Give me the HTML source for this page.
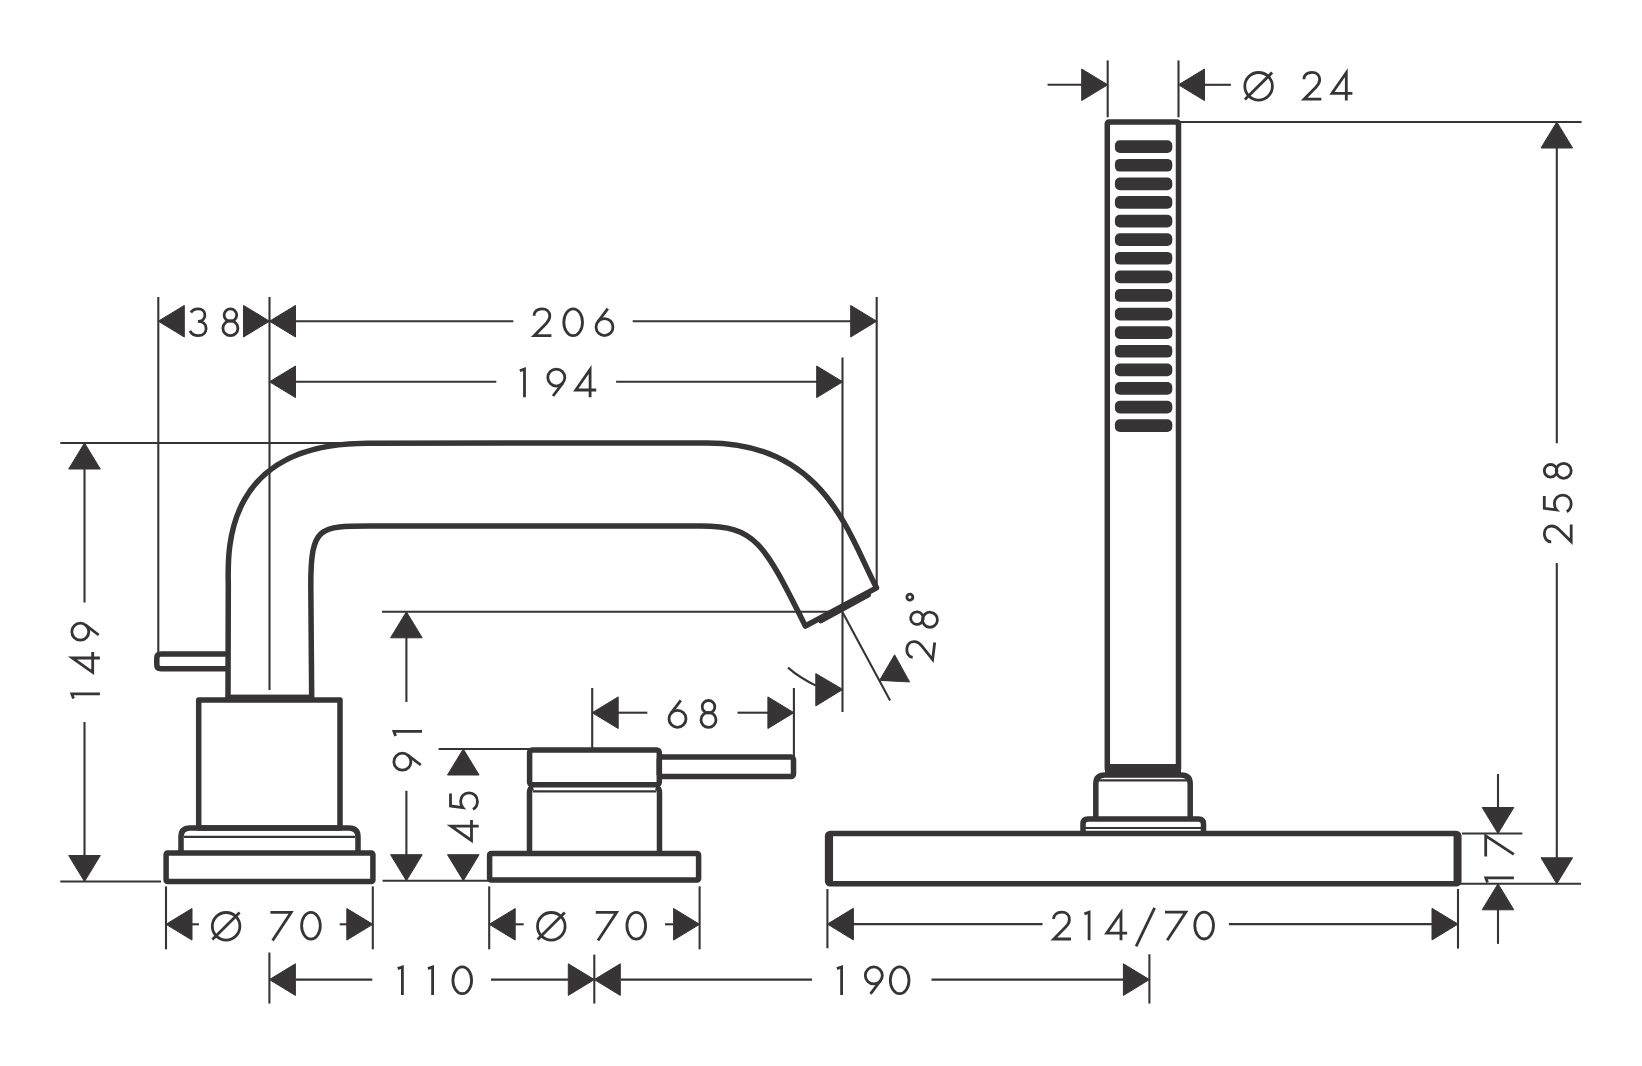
<!DOCTYPE html>
<html><head><meta charset="utf-8"><style>
html,body{margin:0;padding:0;background:#fff;}
body{width:1642px;height:1066px;overflow:hidden;font-family:"Liberation Sans",sans-serif;}
svg{display:block;}
</style></head><body>
<svg width="1642" height="1066" viewBox="0 0 1642 1066">
<rect width="1642" height="1066" fill="#fff"/>
<g stroke="#363435" stroke-linecap="butt" fill="none">
<line x1="158.3" y1="297" x2="158.3" y2="653" stroke-width="2.1"/>
<line x1="269.5" y1="297" x2="269.5" y2="690" stroke-width="2.1"/>
<polygon points="158.3,321.2 184.3,305.4 184.3,337.0" fill="#363435" stroke="#363435" stroke-width="1" stroke-linejoin="round"/>
<polygon points="269.5,321.2 243.5,305.4 243.5,337.0" fill="#363435" stroke="#363435" stroke-width="1" stroke-linejoin="round"/>
<polygon points="269.5,321.2 295.5,305.4 295.5,337.0" fill="#363435" stroke="#363435" stroke-width="1" stroke-linejoin="round"/>
<g transform="translate(188.7,307.5)" fill="none" stroke-width="2.8"><path d="M2.2,5 C3.6,2.6 6.2,1.3 9.4,1.3 C13.4,1.3 16.2,4 16.2,7.7 C16.2,11.4 13.4,13.9 9.2,13.9 C14.2,13.9 17.4,16.9 17.4,21 C17.4,25.3 14.1,28.2 9.6,28.2 C5.8,28.2 2.8,26.4 1.3,23.3"/></g>
<g transform="translate(220.4,307.5)" fill="none" stroke-width="2.8"><circle cx="10" cy="7.6" r="6.3"/><circle cx="10" cy="20.7" r="7.5"/></g>
<line x1="295" y1="321.2" x2="513.3" y2="321.2" stroke-width="2.1"/>
<line x1="632.7" y1="321.2" x2="851" y2="321.2" stroke-width="2.1"/>
<polygon points="876.7,321.2 850.7,305.4 850.7,337.0" fill="#363435" stroke="#363435" stroke-width="1" stroke-linejoin="round"/>
<line x1="876.7" y1="297" x2="876.7" y2="587" stroke-width="2.1"/>
<g transform="translate(532.4,307.5)" fill="none" stroke-width="2.8"><path d="M1.6,8.2 C1.6,4 5,1.3 9.6,1.3 C14.2,1.3 17.4,4.3 17.4,8.6 C17.4,11.6 16,13.8 13.6,16.2 L1.8,28.2 H19"/></g>
<g transform="translate(562.5,307.5)" fill="none" stroke-width="2.8"><ellipse cx="10.65" cy="14.75" rx="9.35" ry="13.45"/></g>
<g transform="translate(594.0,307.5)" fill="none" stroke-width="2.8"><path d="M13.8,1.2 L3.72,14.48"/><circle cx="10.5" cy="19.6" r="8.5"/></g>
<polygon points="269.5,381.8 295.5,366.0 295.5,397.6" fill="#363435" stroke="#363435" stroke-width="1" stroke-linejoin="round"/>
<line x1="295" y1="381.8" x2="496.3" y2="381.8" stroke-width="2.1"/>
<line x1="616.1" y1="381.8" x2="817" y2="381.8" stroke-width="2.1"/>
<polygon points="842.7,381.8 816.7,366.0 816.7,397.6" fill="#363435" stroke="#363435" stroke-width="1" stroke-linejoin="round"/>
<line x1="842.5" y1="357.4" x2="842.5" y2="712" stroke-width="2.1"/>
<g transform="translate(519.4,367.7)" fill="none" stroke-width="2.8"><path d="M5.1,29.5 V1.4 L0.4,3.1"/></g>
<g transform="translate(546.5,367.7)" fill="none" stroke-width="2.8"><circle cx="9.8" cy="9.9" r="8.5"/><path d="M16.58,15.02 L6.5,28.3"/></g>
<g transform="translate(574.3,367.7)" fill="none" stroke-width="2.8"><path d="M15.8,29.5 V1.8 L1.5,22.3 H21.9"/></g>
<line x1="60.3" y1="443" x2="380" y2="443" stroke-width="2.1"/>
<line x1="60.3" y1="881.5" x2="161" y2="881.5" stroke-width="2.1"/>
<polygon points="84.5,443.0 68.7,469.0 100.3,469.0" fill="#363435" stroke="#363435" stroke-width="1" stroke-linejoin="round"/>
<polygon points="84.5,881.5 68.7,855.5 100.3,855.5" fill="#363435" stroke="#363435" stroke-width="1" stroke-linejoin="round"/>
<line x1="84.5" y1="468" x2="84.5" y2="602.5" stroke-width="2.1"/>
<line x1="84.5" y1="722" x2="84.5" y2="856" stroke-width="2.1"/>
<g transform="translate(70.4,699.0) rotate(-90)" fill="none" stroke-width="2.8"><path d="M5.1,29.5 V1.4 L0.4,3.1"/></g>
<g transform="translate(70.4,673.8) rotate(-90)" fill="none" stroke-width="2.8"><path d="M15.8,29.5 V1.8 L1.5,22.3 H21.9"/></g>
<g transform="translate(70.4,641.5) rotate(-90)" fill="none" stroke-width="2.8"><circle cx="9.8" cy="9.9" r="8.5"/><path d="M16.58,15.02 L6.5,28.3"/></g>
<line x1="382" y1="611.8" x2="830" y2="611.8" stroke-width="2.1"/>
<polygon points="406.4,611.8 390.6,637.8 422.2,637.8" fill="#363435" stroke="#363435" stroke-width="1" stroke-linejoin="round"/>
<polygon points="406.4,880.7 390.6,854.7 422.2,854.7" fill="#363435" stroke="#363435" stroke-width="1" stroke-linejoin="round"/>
<line x1="406.4" y1="637" x2="406.4" y2="702" stroke-width="2.1"/>
<line x1="406.4" y1="790.8" x2="406.4" y2="855" stroke-width="2.1"/>
<line x1="382.6" y1="880.7" x2="489" y2="880.7" stroke-width="2.1"/>
<g transform="translate(392.5,736.5) rotate(-90)" fill="none" stroke-width="2.8"><path d="M5.1,29.5 V1.4 L0.4,3.1"/></g>
<g transform="translate(392.5,771.5) rotate(-90)" fill="none" stroke-width="2.8"><circle cx="9.8" cy="9.9" r="8.5"/><path d="M16.58,15.02 L6.5,28.3"/></g>
<line x1="438.6" y1="749" x2="529.6" y2="749" stroke-width="2.1"/>
<polygon points="463.3,749.0 447.5,775.0 479.1,775.0" fill="#363435" stroke="#363435" stroke-width="1" stroke-linejoin="round"/>
<polygon points="463.3,880.7 447.5,854.7 479.1,854.7" fill="#363435" stroke="#363435" stroke-width="1" stroke-linejoin="round"/>
<g transform="translate(449.2,842.0) rotate(-90)" fill="none" stroke-width="2.8"><path d="M15.8,29.5 V1.8 L1.5,22.3 H21.9"/></g>
<g transform="translate(449.2,811.2) rotate(-90)" fill="none" stroke-width="2.8"><path d="M17.6,1.3 H5.2 L3.6,13.6 C5.2,12.2 7.4,11.4 10,11.4 C14.9,11.4 18.4,14.9 18.4,19.8 C18.4,24.8 14.6,28.2 9.8,28.2 C6.4,28.2 3.6,26.6 1.8,23.8"/></g>
<line x1="592.2" y1="688" x2="592.2" y2="750" stroke-width="2.1"/>
<line x1="793.9" y1="688" x2="793.9" y2="757" stroke-width="2.1"/>
<polygon points="592.2,712.7 618.2,696.9 618.2,728.5" fill="#363435" stroke="#363435" stroke-width="1" stroke-linejoin="round"/>
<polygon points="793.9,712.7 767.9,696.9 767.9,728.5" fill="#363435" stroke="#363435" stroke-width="1" stroke-linejoin="round"/>
<line x1="618" y1="712.7" x2="647.3" y2="712.7" stroke-width="2.1"/>
<line x1="737.5" y1="712.7" x2="768" y2="712.7" stroke-width="2.1"/>
<g transform="translate(667.0,699.2)" fill="none" stroke-width="2.8"><path d="M13.8,1.2 L3.72,14.48"/><circle cx="10.5" cy="19.6" r="8.5"/></g>
<g transform="translate(698.5,699.2)" fill="none" stroke-width="2.8"><circle cx="10" cy="7.6" r="6.3"/><circle cx="10" cy="20.7" r="7.5"/></g>
<line x1="842.8" y1="612.8" x2="890.1" y2="700.6" stroke-width="2.1"/>
<path d="M788,667.6 Q800,678 816,685.6" fill="none" stroke-width="2.1"/>
<polygon points="842.8,689.4 815.8,673.6 815.8,705.9" fill="#363435" stroke="#363435" stroke-width="1" stroke-linejoin="round"/>
<polygon points="894.6,654.8 879.6,680.4 909.6,681.9" fill="#363435" stroke="#363435" stroke-width="1" stroke-linejoin="round"/>
<g transform="translate(904.4,657.9) rotate(-83)" fill="none" stroke-width="2.8"><g transform="translate(0,0)"><path d="M1.6,8.2 C1.6,4 5,1.3 9.6,1.3 C14.2,1.3 17.4,4.3 17.4,8.6 C17.4,11.6 16,13.8 13.6,16.2 L1.8,28.2 H19"/></g><g transform="translate(31,0)"><circle cx="10" cy="7.6" r="6.3"/><circle cx="10" cy="20.7" r="7.5"/></g><g transform="translate(57,-6)"><circle cx="4" cy="4" r="3"/></g></g>
<line x1="166" y1="886.4" x2="166" y2="949.3" stroke-width="2.1"/>
<line x1="372.8" y1="886.4" x2="372.8" y2="949.3" stroke-width="2.1"/>
<polygon points="166.0,924.3 192.0,908.5 192.0,940.1" fill="#363435" stroke="#363435" stroke-width="1" stroke-linejoin="round"/>
<polygon points="372.8,924.3 346.8,908.5 346.8,940.1" fill="#363435" stroke="#363435" stroke-width="1" stroke-linejoin="round"/>
<line x1="192" y1="924.3" x2="199" y2="924.3" stroke-width="2.1"/>
<line x1="339.7" y1="924.3" x2="347" y2="924.3" stroke-width="2.1"/>
<g transform="translate(210.8,911.0)" fill="none" stroke-width="2.8"><circle cx="15.3" cy="15.3" r="13.8"/><path d="M1.6,28.6 L28.8,1.6"/></g>
<g transform="translate(270.4,911.0)" fill="none" stroke-width="2.8"><path d="M0,1.3 H20.8 L2.2,29.5"/></g>
<g transform="translate(300.3,911.0)" fill="none" stroke-width="2.8"><ellipse cx="10.65" cy="14.75" rx="9.35" ry="13.45"/></g>
<line x1="489.2" y1="886.4" x2="489.2" y2="949.3" stroke-width="2.1"/>
<line x1="699.6" y1="886.4" x2="699.6" y2="949.3" stroke-width="2.1"/>
<polygon points="489.2,924.3 515.2,908.5 515.2,940.1" fill="#363435" stroke="#363435" stroke-width="1" stroke-linejoin="round"/>
<polygon points="699.6,924.3 673.6,908.5 673.6,940.1" fill="#363435" stroke="#363435" stroke-width="1" stroke-linejoin="round"/>
<line x1="515" y1="924.3" x2="523.7" y2="924.3" stroke-width="2.1"/>
<line x1="665" y1="924.3" x2="673" y2="924.3" stroke-width="2.1"/>
<g transform="translate(536.0,911.0)" fill="none" stroke-width="2.8"><circle cx="15.3" cy="15.3" r="13.8"/><path d="M1.6,28.6 L28.8,1.6"/></g>
<g transform="translate(595.8,911.0)" fill="none" stroke-width="2.8"><path d="M0,1.3 H20.8 L2.2,29.5"/></g>
<g transform="translate(625.6,911.0)" fill="none" stroke-width="2.8"><ellipse cx="10.65" cy="14.75" rx="9.35" ry="13.45"/></g>
<line x1="269.4" y1="952.5" x2="269.4" y2="1003.6" stroke-width="2.1"/>
<line x1="594.3" y1="954.6" x2="594.3" y2="1003.6" stroke-width="2.1"/>
<polygon points="269.4,979.6 295.4,963.8 295.4,995.4" fill="#363435" stroke="#363435" stroke-width="1" stroke-linejoin="round"/>
<polygon points="594.3,979.6 568.3,963.8 568.3,995.4" fill="#363435" stroke="#363435" stroke-width="1" stroke-linejoin="round"/>
<polygon points="594.3,979.6 620.3,963.8 620.3,995.4" fill="#363435" stroke="#363435" stroke-width="1" stroke-linejoin="round"/>
<line x1="296" y1="979.6" x2="372.3" y2="979.6" stroke-width="2.1"/>
<line x1="491" y1="979.6" x2="568" y2="979.6" stroke-width="2.1"/>
<g transform="translate(397.3,965.5)" fill="none" stroke-width="2.8"><path d="M5.1,29.5 V1.4 L0.4,3.1"/></g>
<g transform="translate(427.5,965.5)" fill="none" stroke-width="2.8"><path d="M5.1,29.5 V1.4 L0.4,3.1"/></g>
<g transform="translate(451.6,965.5)" fill="none" stroke-width="2.8"><ellipse cx="10.65" cy="14.75" rx="9.35" ry="13.45"/></g>
<line x1="621" y1="979.6" x2="812" y2="979.6" stroke-width="2.1"/>
<line x1="931.5" y1="979.6" x2="1123.4" y2="979.6" stroke-width="2.1"/>
<polygon points="1149.4,979.6 1123.4,963.8 1123.4,995.4" fill="#363435" stroke="#363435" stroke-width="1" stroke-linejoin="round"/>
<line x1="1149.4" y1="954.3" x2="1149.4" y2="1003.6" stroke-width="2.1"/>
<g transform="translate(836.5,965.5)" fill="none" stroke-width="2.8"><path d="M5.1,29.5 V1.4 L0.4,3.1"/></g>
<g transform="translate(864.0,965.5)" fill="none" stroke-width="2.8"><circle cx="9.8" cy="9.9" r="8.5"/><path d="M16.58,15.02 L6.5,28.3"/></g>
<g transform="translate(889.0,965.5)" fill="none" stroke-width="2.8"><ellipse cx="10.65" cy="14.75" rx="9.35" ry="13.45"/></g>
<line x1="827.4" y1="889" x2="827.4" y2="948.3" stroke-width="2.1"/>
<line x1="1458" y1="889" x2="1458" y2="948.6" stroke-width="2.1"/>
<polygon points="827.4,924.1 853.4,908.3 853.4,939.9" fill="#363435" stroke="#363435" stroke-width="1" stroke-linejoin="round"/>
<polygon points="1458.0,924.1 1432.0,908.3 1432.0,939.9" fill="#363435" stroke="#363435" stroke-width="1" stroke-linejoin="round"/>
<line x1="853" y1="924.1" x2="1042.5" y2="924.1" stroke-width="2.1"/>
<line x1="1228.9" y1="924.1" x2="1432" y2="924.1" stroke-width="2.1"/>
<g transform="translate(1052.0,910.8)" fill="none" stroke-width="2.8"><path d="M1.6,8.2 C1.6,4 5,1.3 9.6,1.3 C14.2,1.3 17.4,4.3 17.4,8.6 C17.4,11.6 16,13.8 13.6,16.2 L1.8,28.2 H19"/></g>
<g transform="translate(1084.0,910.8)" fill="none" stroke-width="2.8"><path d="M5.1,29.5 V1.4 L0.4,3.1"/></g>
<g transform="translate(1105.2,910.8)" fill="none" stroke-width="2.8"><path d="M15.8,29.5 V1.8 L1.5,22.3 H21.9"/></g>
<g transform="translate(1135.0,910.8)" fill="none" stroke-width="2.8"><path d="M1.1,35.5 L19.6,-2.9"/></g>
<g transform="translate(1165.0,910.8)" fill="none" stroke-width="2.8"><path d="M0,1.3 H20.8 L2.2,29.5"/></g>
<g transform="translate(1193.5,910.8)" fill="none" stroke-width="2.8"><ellipse cx="10.65" cy="14.75" rx="9.35" ry="13.45"/></g>
<line x1="1107.7" y1="60.4" x2="1107.7" y2="117.3" stroke-width="2.1"/>
<line x1="1178.5" y1="60.4" x2="1178.5" y2="117.3" stroke-width="2.1"/>
<line x1="1047.6" y1="84.8" x2="1082" y2="84.8" stroke-width="2.1"/>
<polygon points="1107.7,84.8 1081.7,69.0 1081.7,100.6" fill="#363435" stroke="#363435" stroke-width="1" stroke-linejoin="round"/>
<polygon points="1178.5,84.8 1204.5,69.0 1204.5,100.6" fill="#363435" stroke="#363435" stroke-width="1" stroke-linejoin="round"/>
<line x1="1204" y1="84.8" x2="1230.9" y2="84.8" stroke-width="2.1"/>
<g transform="translate(1243.3,71.0)" fill="none" stroke-width="2.8"><circle cx="15.3" cy="15.3" r="13.8"/><path d="M1.6,28.6 L28.8,1.6"/></g>
<g transform="translate(1302.3,71.0)" fill="none" stroke-width="2.8"><path d="M1.6,8.2 C1.6,4 5,1.3 9.6,1.3 C14.2,1.3 17.4,4.3 17.4,8.6 C17.4,11.6 16,13.8 13.6,16.2 L1.8,28.2 H19"/></g>
<g transform="translate(1330.5,71.0)" fill="none" stroke-width="2.8"><path d="M15.8,29.5 V1.8 L1.5,22.3 H21.9"/></g>
<line x1="1178.5" y1="122" x2="1581.6" y2="122" stroke-width="2.1"/>
<polygon points="1556.8,122.0 1541.0,148.0 1572.6,148.0" fill="#363435" stroke="#363435" stroke-width="1" stroke-linejoin="round"/>
<polygon points="1556.8,883.8 1541.0,857.8 1572.6,857.8" fill="#363435" stroke="#363435" stroke-width="1" stroke-linejoin="round"/>
<line x1="1556.8" y1="147" x2="1556.8" y2="443.3" stroke-width="2.1"/>
<line x1="1556.8" y1="563" x2="1556.8" y2="858" stroke-width="2.1"/>
<line x1="1458" y1="883.8" x2="1581" y2="883.8" stroke-width="2.1"/>
<g transform="translate(1543.0,543.4) rotate(-90)" fill="none" stroke-width="2.8"><path d="M1.6,8.2 C1.6,4 5,1.3 9.6,1.3 C14.2,1.3 17.4,4.3 17.4,8.6 C17.4,11.6 16,13.8 13.6,16.2 L1.8,28.2 H19"/></g>
<g transform="translate(1543.0,513.5) rotate(-90)" fill="none" stroke-width="2.8"><path d="M17.6,1.3 H5.2 L3.6,13.6 C5.2,12.2 7.4,11.4 10,11.4 C14.9,11.4 18.4,14.9 18.4,19.8 C18.4,24.8 14.6,28.2 9.8,28.2 C6.4,28.2 3.6,26.6 1.8,23.8"/></g>
<g transform="translate(1543.0,480.8) rotate(-90)" fill="none" stroke-width="2.8"><circle cx="10" cy="7.6" r="6.3"/><circle cx="10" cy="20.7" r="7.5"/></g>
<line x1="1462" y1="833.5" x2="1522.3" y2="833.5" stroke-width="2.1"/>
<line x1="1498" y1="774" x2="1498" y2="808" stroke-width="2.1"/>
<polygon points="1498.0,833.5 1482.2,807.5 1513.8,807.5" fill="#363435" stroke="#363435" stroke-width="1" stroke-linejoin="round"/>
<polygon points="1498.0,883.8 1482.2,909.8 1513.8,909.8" fill="#363435" stroke="#363435" stroke-width="1" stroke-linejoin="round"/>
<line x1="1498" y1="909" x2="1498" y2="943.9" stroke-width="2.1"/>
<g transform="translate(1484.4,883.0) rotate(-90)" fill="none" stroke-width="2.8"><path d="M5.1,29.5 V1.4 L0.4,3.1"/></g>
<g transform="translate(1484.4,856.6) rotate(-90)" fill="none" stroke-width="2.8"><path d="M0,1.3 H20.8 L2.2,29.5"/></g>
<path d="M228,698 L228.3,586 C228.3,558.5 218.5,443.2 367.3,443.2 L707.3,442.9 C824.9,442.9 849.1,535.8 876.5,587.8 L805.4,626 C763.6,542.7 755.8,526.1 700.7,526.1 L370.5,526 C319.3,526 310.8,525.9 310.8,585.3 L311.7,698" fill="none" stroke-width="5.5" stroke-linejoin="round"/>
<line x1="868.2" y1="594.8" x2="820.9" y2="620.6" stroke-width="5.5" stroke-linecap="round"/>
<path d="M228,654 H161 Q156.8,654 156.8,658 V664.7 Q156.8,668.7 161,668.7 H228" fill="none" stroke-width="5.5"/>
<rect x="228" y="694.6" width="83.7" height="5.5" fill="#363435" stroke="none"/>
<rect x="198.7" y="700" width="141.3" height="128" fill="none" stroke-width="5.5" stroke-linejoin="round"/>
<path d="M181,853 V837 Q181,828 190,828 H349 Q358,828 358,837 V853" fill="none" stroke-width="5.5"/>
<line x1="184" y1="836.8" x2="355" y2="836.8" stroke-width="2.2"/>
<rect x="166.1" y="853" width="206.8" height="28.6" rx="1.5" fill="none" stroke-width="5.5"/>
<rect x="529.6" y="750" width="129.7" height="34.8" rx="2.5" fill="none" stroke-width="5.5"/>
<path d="M529.5,853.6 V793 Q529.5,788 533,787 M659.5,853.6 V793 Q659.5,788 656,787" fill="none" stroke-width="5.5"/>
<line x1="533" y1="791.3" x2="656" y2="791.3" stroke-width="2.2"/>
<rect x="489.6" y="853.6" width="209" height="26.5" rx="1.5" fill="none" stroke-width="5.5"/>
<rect x="659.3" y="757.1" width="134.2" height="19.5" rx="2.5" fill="none" stroke-width="5.5"/>
<rect x="1107.3" y="122" width="71.2" height="648" rx="1.5" fill="none" stroke-width="5.5"/>
<rect x="1114.9" y="140.3" width="57.4" height="12.7" rx="5" fill="#363435" stroke="none"/>
<rect x="1114.9" y="158.9" width="57.4" height="12.7" rx="5" fill="#363435" stroke="none"/>
<rect x="1114.9" y="177.5" width="57.4" height="12.7" rx="5" fill="#363435" stroke="none"/>
<rect x="1114.9" y="196.1" width="57.4" height="12.7" rx="5" fill="#363435" stroke="none"/>
<rect x="1114.9" y="214.7" width="57.4" height="12.7" rx="5" fill="#363435" stroke="none"/>
<rect x="1114.9" y="233.3" width="57.4" height="12.7" rx="5" fill="#363435" stroke="none"/>
<rect x="1114.9" y="251.9" width="57.4" height="12.7" rx="5" fill="#363435" stroke="none"/>
<rect x="1114.9" y="270.5" width="57.4" height="12.7" rx="5" fill="#363435" stroke="none"/>
<rect x="1114.9" y="289.1" width="57.4" height="12.7" rx="5" fill="#363435" stroke="none"/>
<rect x="1114.9" y="307.7" width="57.4" height="12.7" rx="5" fill="#363435" stroke="none"/>
<rect x="1114.9" y="326.3" width="57.4" height="12.7" rx="5" fill="#363435" stroke="none"/>
<rect x="1114.9" y="344.9" width="57.4" height="12.7" rx="5" fill="#363435" stroke="none"/>
<rect x="1114.9" y="363.5" width="57.4" height="12.7" rx="5" fill="#363435" stroke="none"/>
<rect x="1114.9" y="382.1" width="57.4" height="12.7" rx="5" fill="#363435" stroke="none"/>
<rect x="1114.9" y="400.7" width="57.4" height="12.7" rx="5" fill="#363435" stroke="none"/>
<rect x="1114.9" y="419.3" width="57.4" height="12.7" rx="5" fill="#363435" stroke="none"/>
<rect x="1105" y="764" width="76" height="13" fill="#363435" stroke="none"/>
<path d="M1095.8,819 V784 Q1095.8,775 1104.8,775 H1181.2 Q1190.2,775 1190.2,784 V819" fill="none" stroke-width="5.5"/>
<line x1="1099" y1="780.3" x2="1187" y2="780.3" stroke-width="2.2"/>
<path d="M1083,833 V824 Q1083,819 1088,819 H1198.5 Q1203.5,819 1203.5,824 V833" fill="none" stroke-width="5.5"/>
<line x1="1085" y1="828" x2="1201" y2="828" stroke-width="2.2"/>
<rect x="827.6" y="833.4" width="631.2" height="50.4" rx="2.5" fill="none" stroke-width="5.5"/>
<line x1="830.3" y1="836" x2="830.3" y2="881.5" stroke-width="5.5"/>
<line x1="1456.3" y1="836" x2="1456.3" y2="881.5" stroke-width="5.5"/>
</g>
</svg>
</body></html>
